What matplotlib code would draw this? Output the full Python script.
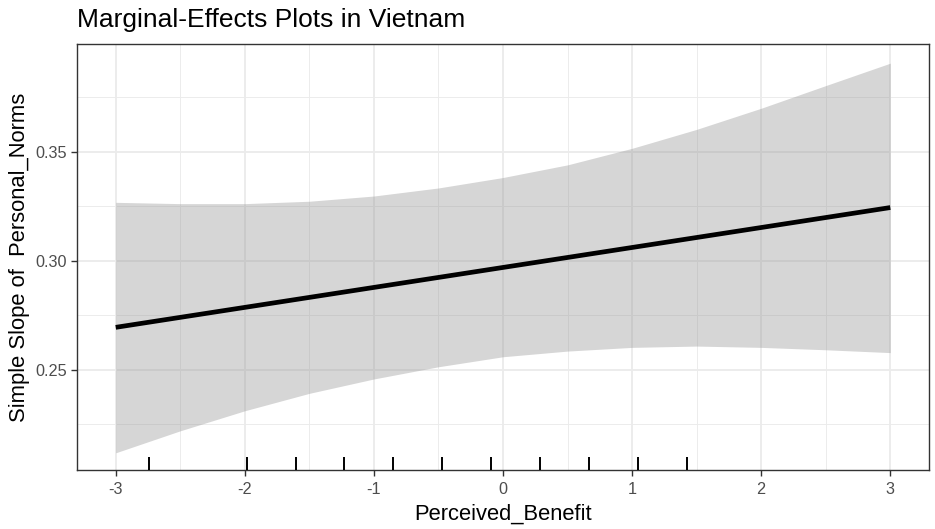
import matplotlib
matplotlib.use("Agg")
import matplotlib.pyplot as plt
import matplotlib.transforms as mtransforms

plt.rcParams['font.family'] = ['Liberation Sans', 'DejaVu Sans']

# ── data ──────────────────────────────────────────────────────────────────────
x_band = [-3, -2.5, -2, -1.5, -1, -0.5, 0, 0.5, 1, 1.5, 2, 2.5, 3]
upper  = [0.3268, 0.3262, 0.3262, 0.3273, 0.3297, 0.3334, 0.3382,
          0.3440, 0.3516, 0.3603, 0.3700, 0.3804, 0.3907]
lower  = [0.2118, 0.2219, 0.2311, 0.2391, 0.2457, 0.2513, 0.2559,
          0.2585, 0.2602, 0.2608, 0.2602, 0.2591, 0.2578]

x_line = [-3, 3]
slope  = [0.2694, 0.3244]

rug_x = [-2.742, -1.985, -1.607, -1.228, -0.850, -0.471, -0.092,
         0.287, 0.666, 1.046, 1.425]

x_ticks = [-3, -2, -1, 0, 1, 2, 3]
x_minor = [-2.5, -1.5, -0.5, 0.5, 1.5, 2.5]
y_ticks = [0.25, 0.30, 0.35]
y_minor = [0.225, 0.275, 0.325, 0.375]
y_labels = ["0.25", "0.30", "0.35"]

TITLE  = "Marginal-Effects Plots in Vietnam"
XLABEL = "Perceived_Benefit"
YLABEL = "Simple Slope of  Personal_Norms"

W, H = 935, 529
fig = plt.figure(figsize=(W / 100, H / 100), dpi=100)
L, R, T, B = 77, 929, 44, 470
ax = fig.add_axes([L / W, 1 - B / H, (R - L) / W, (B - T) / H])

ax.set_xlim(-3.3, 3.3)
ax.set_ylim(0.2039, 0.3995)

# grid (theme_bw)
for v in x_ticks:
    ax.axvline(v, color='#EBEBEB', lw=1.3, zorder=0)
for v in x_minor:
    ax.axvline(v, color='#EBEBEB', lw=0.65, zorder=0)
for v in y_ticks:
    ax.axhline(v, color='#EBEBEB', lw=1.3, zorder=0)
for v in y_minor:
    ax.axhline(v, color='#EBEBEB', lw=0.65, zorder=0)

ax.fill_between(x_band, lower, upper, color='#999999', alpha=0.4, lw=0, zorder=1)
ax.plot(x_line, slope, color='black', lw=3.4, solid_capstyle='butt', zorder=2)

trans = mtransforms.blended_transform_factory(ax.transData, ax.transAxes)
ax.vlines(rug_x, 0, 0.03, transform=trans, color='black', lw=1.4, zorder=3)

ax.set_xticks(x_ticks)
ax.set_xticklabels([str(t) for t in x_ticks])
ax.set_yticks(y_ticks)
ax.set_yticklabels(y_labels)
ax.tick_params(axis='both', length=4, width=1.0, color='#333333',
               labelsize=11.7, labelcolor='#4D4D4D', pad=3)
ax.tick_params(axis='x', pad=4.5)

for s in ax.spines.values():
    s.set_color('#333333')
    s.set_linewidth(1.0)

ax.set_xlabel(XLABEL, fontsize=15.8, color='black', labelpad=5)
ax.set_ylabel(YLABEL, fontsize=15.8, color='black', labelpad=4)

fig.text(L / W, 1 - 27 / H, TITLE, fontsize=19, ha='left', va='baseline')

fig.savefig("out.png", dpi=100)
